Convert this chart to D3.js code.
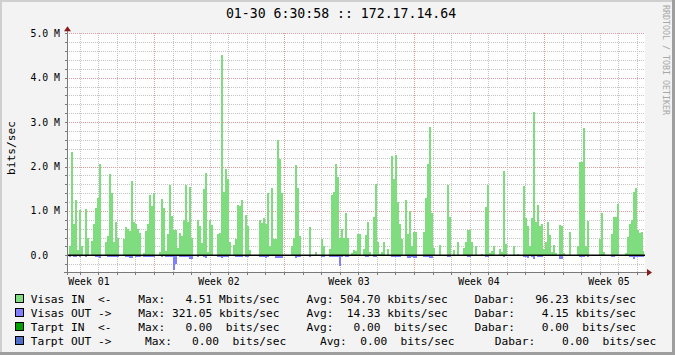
<!DOCTYPE html>
<html><head><meta charset="utf-8">
<script src="https://cdn.jsdelivr.net/npm/d3@7"></script>
<style>html,body{margin:0;padding:0;background:#f3f3f3;overflow:hidden} svg{display:block}</style>
</head><body><svg id="chart" width="675" height="355"></svg>
<script>
// ---------------- data ----------------
const titleText = "01-30 6:30:58 :: 172.17.14.64";
const yAxisTitle = "bits/sec";
const sideText = "RRDTOOL / TOBI OETIKER";
const yTickValues = [0, 1, 2, 3, 4, 5];           // Mbit/s
const yTickLabels = ["0.0", "1.0 M", "2.0 M", "3.0 M", "4.0 M", "5.0 M"];
const weekLabels = ["Week 01", "Week 02", "Week 03", "Week 04", "Week 05"];
const weekStartDays = [-2.316, 4.684, 11.684, 18.684, 25.684]; // days from graph start
const spanDays = 31.07;                            // graph span in days
// Visas IN, Mbit/s, one sample per step (span / samples)
const inVals = [
0,0.2,2.32,0.7,1.25,0.12,1.02,0.2,0,1.04, 0.4,0,0.32,0.7,1.06,1.29,2.05,0,0,0.3,
0.44,1.83,1.4,0.3,0.76,0.4,0,0,0.37,0.63, 0.6,0.55,1.67,0.76,0.7,0.6,0.5,0,0.05,0.55,
0.7,1.36,1.1,1.4,0,0,0.07,1.26,1.06,0.1, 0.47,1.58,0.89,0.58,0.57,0.17,0.51,0.44,0.8,1.58,
0.76,1.53,0.4,0,0,0.8,0.66,0.28,1.49,1.86, 0.08,0.8,0.68,0,0,0.48,0.51,4.51,1.42,1.95,
1.71,0.29,0,0.23,0.37,1.13,1.1,1.25,0,0.91, 0.66,0.12,0,0,0,0,0.8,0.72,0.85,0.7,
1.41,0.21,1.52,0.36,0.36,2.6,2.17,1.4,0,0, 0,0,0.2,0.38,2.03,1.51,0.44,0,0,0,
0,0.63,0,0,0.07,0,0,0.37,0.2,0, 0,0.14,1.36,1.43,2.06,1.77,0.4,0.6,0.4,0.96,
0.4,0,0.06,0.12,0.1,0.48,0.48,0,0.14,0.46, 0.75,0.08,0,0.86,1.61,0.31,0.02,0.08,0.3,0,
0.14,0,2.24,1.72,2.26,1.21,0.7,0.37,0,1.25, 0.48,1.0,0.21,0.53,0.53,0,0,0,0.53,1.28,
2.06,2.88,0.95,0.17,0,0,0.23,0,0,0, 1.59,0.86,0,0.12,0,0.29,0,0,0.17,0.29,
0.57,0.57,0.29,0,0.2,0,0,0.03,0,1.08, 1.58,0.05,0.1,0.21,0,0,0.15,0.08,1.9,0.25,
0,0,0,0.21,0,0.03,0,0,1.55,0.83, 0.66,0.2,0.83,3.23,0.75,1.13,0.65,0.7,0.15,0.31,
0.76,0.46,0.08,0.23,0.05,0,0.68,0.66,0.05,0, 0,0.53,0,0,0,0.21,2.1,2.1,2.86,0.2,
0.77,0,0,0,0,0,0.37,0.96,0.08,0, 0,0,0.48,0.86,0.87,1.16,0,0,0,0.06,
0.42,0.7,0.8,1.43,1.51,0.57,0.51,0.53,0.1
];
// Visas OUT, Mbit/s (drawn below zero)
const outVals = [
0,0.03,0,0.04,0.04,0,0.04,0,0,0.04, 0,0,0,0,0.04,0.04,0.06,0,0,0,
0.03,0.03,0.03,0.03,0.03,0.03,0,0,0,0.04, 0.04,0.05,0.05,0,0.03,0.03,0.03,0,0.04,0.04,
0.04,0.04,0.04,0.03,0,0,0,0.04,0,0.03, 0.03,0.03,0.03,0.321,0.2,0,0.03,0.03,0.03,0.03,
0.03,0.09,0.09,0,0,0.03,0,0,0.04,0.06, 0,0,0,0,0,0.04,0.04,0.06,0.04,0.04,
0.04,0,0,0,0.04,0.04,0.04,0.04,0,0.04, 0.04,0,0,0,0,0,0.04,0.04,0.04,0.06,
0.04,0,0,0,0.05,0.05,0.05,0.05,0,0, 0,0,0,0,0.06,0.04,0.04,0,0,0,
0,0.03,0,0,0,0,0,0.03,0.03,0, 0,0.03,0.03,0.03,0.03,0.03,0.24,0.03,0,0.04,
0.04,0,0,0,0,0,0,0,0,0.03, 0.03,0,0,0.04,0.04,0,0,0,0,0,
0,0,0.04,0.04,0.04,0.04,0.04,0,0,0.02, 0.07,0.07,0.03,0.07,0.07,0,0,0,0.04,0.04,
0.04,0.05,0.05,0,0,0,0,0,0,0, 0.04,0.04,0,0,0,0,0,0,0,0,
0.03,0.03,0,0,0,0,0,0,0,0.04, 0.04,0,0,0,0,0,0,0,0.04,0,
0,0,0,0,0,0,0,0,0.04,0.04, 0.07,0,0.04,0.08,0,0.03,0.03,0.03,0,0,
0,0,0,0,0,0,0.09,0.09,0,0, 0,0.02,0,0,0,0,0.04,0.04,0.04,0,
0.03,0,0,0,0,0,0,0,0,0, 0,0,0.04,0.04,0,0,0,0,0,0,
0,0.04,0.04,0.09,0.04,0.04,0.04,0.04,0.04
];
const seriesNames = ["Visas IN", "Visas OUT", "Tarpt IN", "Tarpt OUT"];
const seriesColors = ["#7fdc7f", "#8080ff", "#00a000", "#4d6fc8"];
const legendRows = [
  "Visas IN  <-    Max:   4.51 Mbits/sec    Avg: 504.70 kbits/sec    Dabar:   96.23 kbits/sec",
  "Visas OUT ->    Max: 321.05 kbits/sec    Avg:  14.33 kbits/sec    Dabar:    4.15 kbits/sec",
  "Tarpt IN  <-    Max:   0.00  bits/sec    Avg:   0.00  bits/sec    Dabar:    0.00  bits/sec",
  "Tarpt OUT ->     Max:   0.00  bits/sec     Avg:  0.00  bits/sec      Dabar:    0.00  bits/sec"
];

// ---------------- layout ----------------
const W = 675, H = 355;
const plot = {left: 67, right: 645, dataRight: 644, top: 33.3, zero: 255.3, bottom: 272};
const mono = "'DejaVu Sans Mono', 'Liberation Mono', monospace";

const svg = d3.select("#chart");
const x = d3.scaleLinear().domain([0, spanDays]).range([plot.left, plot.dataRight]);
const y = d3.scaleLinear().domain([0, 5]).range([plot.zero, plot.top]);
const yMin = y.invert(plot.bottom);
const step = spanDays / (inVals.length - 0.5);

// frame / background
svg.append("rect").attr("width", W).attr("height", H).attr("fill", "#f3f3f3");
svg.append("rect").attr("x", 0).attr("y", 0).attr("width", W).attr("height", 2).attr("fill", "#cfcfcf");
svg.append("rect").attr("x", 0).attr("y", 0).attr("width", 2).attr("height", H).attr("fill", "#cfcfcf");
svg.append("rect").attr("x", W - 3).attr("y", 0).attr("width", 3).attr("height", H).attr("fill", "#9e9e9e");
svg.append("rect").attr("x", 0).attr("y", H - 3).attr("width", W).attr("height", 3).attr("fill", "#9e9e9e");

// canvas
svg.append("rect").attr("x", plot.left).attr("y", plot.top)
  .attr("width", plot.right - plot.left).attr("height", plot.bottom - plot.top).attr("fill", "#ffffff");

const grid = svg.append("g").attr("shape-rendering", "crispEdges");
const minorColor = "#c4c4c4", majorColor = "#e29c9c";
// minor horizontal grid every 0.2 M
const minorY = d3.range(-1, 26).map(i => i * 0.2).filter(v => v >= yMin && Math.abs(v - Math.round(v)) > 1e-6);
grid.selectAll(".hmin").data(minorY).join("line")
  .attr("x1", plot.left).attr("x2", plot.right)
  .attr("y1", d => Math.round(y(d)) + 0.5).attr("y2", d => Math.round(y(d)) + 0.5)
  .attr("stroke", minorColor).attr("stroke-dasharray", "1,1");
// minor vertical grid, every day
const dayLines = d3.range(-3, 32).map(k => weekStartDays[1] + k - 4).filter(d => d > 0 && x(d) < plot.right)
  .filter(d => !weekStartDays.some(w => Math.abs(w - d) < 1e-6));
grid.selectAll(".vmin").data(dayLines).join("line")
  .attr("y1", plot.top).attr("y2", plot.bottom)
  .attr("x1", d => Math.round(x(d)) + 0.5).attr("x2", d => Math.round(x(d)) + 0.5)
  .attr("stroke", minorColor).attr("stroke-dasharray", "1,1");
// major horizontal
grid.selectAll(".hmaj").data(yTickValues.filter(v => v > 0)).join("line")
  .attr("x1", plot.left).attr("x2", plot.right)
  .attr("y1", d => Math.round(y(d)) + 0.5).attr("y2", d => Math.round(y(d)) + 0.5)
  .attr("stroke", majorColor).attr("stroke-dasharray", "1,1");
// major vertical (week starts)
grid.selectAll(".vmaj").data(weekStartDays.filter(d => d > 0)).join("line")
  .attr("y1", plot.top).attr("y2", plot.bottom)
  .attr("x1", d => Math.round(x(d)) + 0.5).attr("x2", d => Math.round(x(d)) + 0.5)
  .attr("stroke", majorColor).attr("stroke-dasharray", "1,1");

// bars
const bars = svg.append("g").attr("shape-rendering", "crispEdges");
const xs = i => Math.round(x(i * step));
const xe = i => Math.min(Math.round(x((i + 1) * step)), plot.dataRight);
bars.selectAll(".in").data(inVals).join("rect")
  .attr("x", (d, i) => xs(i)).attr("width", (d, i) => Math.max(0, xe(i) - xs(i)))
  .attr("y", d => y(d)).attr("height", d => y(0) - y(d))
  .attr("fill", seriesColors[0]);
bars.selectAll(".out").data(outVals).join("rect")
  .attr("x", (d, i) => xs(i)).attr("width", (d, i) => Math.max(0, xe(i) - xs(i)))
  .attr("y", y(0)).attr("height", d => y(-d) - y(0))
  .attr("fill", seriesColors[1]);

// zero rule
svg.append("line").attr("x1", plot.left).attr("x2", plot.right)
  .attr("y1", y(0)).attr("y2", y(0)).attr("stroke", "#000").attr("stroke-width", 1.5);

// axes
const axisColor = "#7a7a7a";
const ax = svg.append("g").attr("shape-rendering", "crispEdges");
ax.append("line").attr("x1", plot.left + 0.5).attr("x2", plot.left + 0.5)
  .attr("y1", plot.top - 3).attr("y2", plot.bottom + 3).attr("stroke", axisColor);
ax.append("line").attr("x1", plot.left - 3).attr("x2", plot.right + 3)
  .attr("y1", plot.bottom + 0.5).attr("y2", plot.bottom + 0.5).attr("stroke", axisColor);
// ticks on the y axis
ax.selectAll(".yt").data(minorY.concat(yTickValues)).join("line")
  .attr("x1", plot.left - 2).attr("x2", plot.left)
  .attr("y1", d => Math.round(y(d)) + 0.5).attr("y2", d => Math.round(y(d)) + 0.5)
  .attr("stroke", axisColor);
// ticks on the x axis
ax.selectAll(".xt").data(dayLines.concat(weekStartDays.filter(d => d > 0))).join("line")
  .attr("x1", d => Math.round(x(d)) + 0.5).attr("x2", d => Math.round(x(d)) + 0.5)
  .attr("y1", plot.bottom).attr("y2", plot.bottom + 3).attr("stroke", axisColor);
// arrows
svg.append("path").attr("fill", "#8b1a1a")
  .attr("d", `M${plot.left - 3},${plot.top - 2} L${plot.left + 4},${plot.top - 2} L${plot.left + 0.5},${plot.top - 7} Z`);
svg.append("path").attr("fill", "#8b1a1a")
  .attr("d", `M${plot.right + 2},${plot.bottom - 3} L${plot.right + 2},${plot.bottom + 4} L${plot.right + 7},${plot.bottom + 0.5} Z`);

// y labels
svg.selectAll(".yl").data(yTickValues).join("text")
  .attr("x", 30.5).attr("y", d => y(d)).attr("dy", "0.36em")
  .attr("font-family", mono).attr("font-size", 9.8).attr("fill", "#000")
  .text((d, i) => yTickLabels[i]);
// week labels
svg.selectAll(".wl").data(weekLabels).join("text")
  .attr("x", (d, i) => x(weekStartDays[i] + 3.5)).attr("y", 285)
  .attr("text-anchor", "middle")
  .attr("font-family", mono).attr("font-size", 9.8).attr("fill", "#000")
  .text(d => d);
// title
svg.append("text").attr("x", 341).attr("y", 18.3).attr("text-anchor", "middle")
  .attr("font-family", mono).attr("font-size", 13.2).attr("fill", "#000").text(titleText);
// y-axis title
svg.append("text").attr("transform", "translate(15,148) rotate(-90)").attr("text-anchor", "middle")
  .attr("font-family", mono).attr("font-size", 11.2).attr("fill", "#000").text(yAxisTitle);
// side watermark
svg.append("text").attr("transform", "translate(663,5) rotate(90)")
  .attr("font-family", mono).attr("font-size", 8.3).attr("fill", "#a8a8a8").text(sideText);

// legend
const leg = svg.append("g");
legendRows.forEach((row, i) => {
  const cy = 299 + i * 14;
  leg.append("rect").attr("x", 15.5).attr("y", cy - 4.5).attr("width", 8).attr("height", 8)
    .attr("fill", seriesColors[i]).attr("stroke", "#000").attr("shape-rendering", "crispEdges");
  leg.append("text").attr("x", 30.7).attr("y", cy).attr("dy", "0.36em")
    .attr("xml:space", "preserve").style("white-space", "pre")
    .attr("font-family", mono).attr("font-size", 11.18).attr("fill", "#000").text(row);
});
</script></body></html>
